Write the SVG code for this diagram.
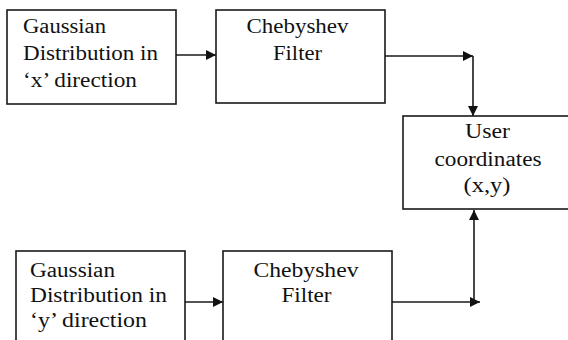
<svg xmlns="http://www.w3.org/2000/svg" width="568" height="340" viewBox="0 0 568 340">
<style>
.box{fill:#fff;stroke:#1a1a1a;stroke-width:1.6}
.t{font-family:"Liberation Serif","Times New Roman",serif;font-size:20px;fill:#111}
.c{text-anchor:middle}
.ln{fill:none;stroke:#1a1a1a;stroke-width:1.6}
</style>
<defs>
<marker id="ah" markerUnits="userSpaceOnUse" markerWidth="11" markerHeight="11" refX="10" refY="5" orient="auto">
<path d="M0,0 L10,5 L0,10 z" fill="#111"/>
</marker>
</defs>
<rect width="568" height="340" fill="#fff"/>
<g id="connectors">
<line class="ln" x1="176" y1="55" x2="216" y2="55" marker-end="url(#ah)"/>
<line class="ln" x1="385" y1="56" x2="473" y2="56" marker-end="url(#ah)"/>
<line class="ln" x1="473" y1="56" x2="473" y2="116" marker-end="url(#ah)"/>
<line class="ln" x1="185" y1="302" x2="223" y2="302" marker-end="url(#ah)"/>
<line class="ln" x1="392" y1="302" x2="480" y2="302" marker-end="url(#ah)"/>
<line class="ln" x1="474" y1="302" x2="474" y2="210" marker-end="url(#ah)"/>
</g>
<g id="gauss-x">
<rect class="box" x="7" y="10" width="169" height="94"/>
<text class="t" x="23" y="33" textLength="83" lengthAdjust="spacingAndGlyphs">Gaussian</text>
<text class="t" x="23" y="60" textLength="135" lengthAdjust="spacingAndGlyphs">Distribution in</text>
<text class="t" x="23" y="87" textLength="114" lengthAdjust="spacingAndGlyphs">‘x’ direction</text>
</g>
<g id="cheby-x">
<rect class="box" x="216" y="10" width="169" height="93"/>
<text class="t c" x="297.5" y="33" textLength="102" lengthAdjust="spacingAndGlyphs">Chebyshev</text>
<text class="t c" x="297.5" y="60" textLength="49" lengthAdjust="spacingAndGlyphs">Filter</text>
</g>
<g id="user">
<rect class="box" x="403" y="116" width="170" height="93"/>
<text class="t c" x="487.5" y="138" textLength="45" lengthAdjust="spacingAndGlyphs">User</text>
<text class="t c" x="488" y="166" textLength="107" lengthAdjust="spacingAndGlyphs">coordinates</text>
<text class="t c" x="487" y="192" textLength="47" lengthAdjust="spacingAndGlyphs">(x,y)</text>
</g>
<g id="gauss-y">
<rect class="box" x="16" y="251" width="169" height="100"/>
<text class="t" x="30" y="277" textLength="85" lengthAdjust="spacingAndGlyphs">Gaussian</text>
<text class="t" x="30" y="302" textLength="137" lengthAdjust="spacingAndGlyphs">Distribution in</text>
<text class="t" x="30" y="327" textLength="117" lengthAdjust="spacingAndGlyphs">‘y’ direction</text>
</g>
<g id="cheby-y">
<rect class="box" x="223" y="251" width="169" height="100"/>
<text class="t c" x="306" y="277" textLength="105" lengthAdjust="spacingAndGlyphs">Chebyshev</text>
<text class="t c" x="306.5" y="302" textLength="50" lengthAdjust="spacingAndGlyphs">Filter</text>
</g>
</svg>
